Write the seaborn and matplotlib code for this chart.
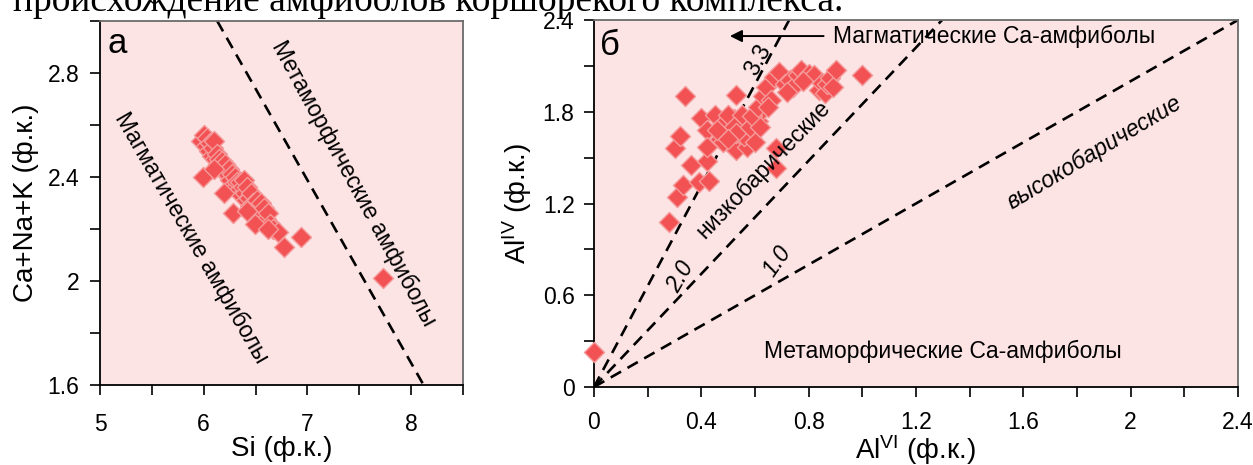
import matplotlib
matplotlib.use("Agg")
import matplotlib.pyplot as plt
import seaborn as sns
import pandas as pd
from matplotlib.ticker import MultipleLocator, FuncFormatter

# ---------------- data ----------------
# panel а: Si vs Ca+Na+K
si_a = [5.97, 6.00, 6.02, 6.03, 6.05, 6.06, 6.08, 6.09, 6.10, 6.11, 6.13, 6.14,
        6.15, 6.17, 6.18, 6.20, 6.21, 6.22, 6.24, 6.25, 6.27, 6.28, 6.30, 6.31,
        6.32, 6.34, 6.35, 6.36, 6.38, 6.39, 6.40, 6.41, 6.42, 6.44, 6.45, 6.46,
        6.48, 6.50, 6.51, 6.53, 6.55, 6.56, 6.58, 6.60, 6.62, 6.64, 6.67, 6.72,
        5.99, 6.10, 6.20, 6.28, 6.42, 6.49, 6.62, 6.77, 6.94, 7.73]
cnk_a = [2.54, 2.56, 2.52, 2.55, 2.50, 2.53, 2.48, 2.51, 2.54, 2.47, 2.49, 2.45,
         2.47, 2.44, 2.46, 2.42, 2.45, 2.41, 2.43, 2.39, 2.41, 2.37, 2.40, 2.36,
         2.38, 2.35, 2.38, 2.33, 2.36, 2.39, 2.34, 2.31, 2.36, 2.32, 2.29, 2.34,
         2.30, 2.27, 2.31, 2.28, 2.30, 2.26, 2.28, 2.24, 2.26, 2.22, 2.20, 2.19,
         2.40, 2.43, 2.34, 2.26, 2.27, 2.22, 2.20, 2.13, 2.17, 2.01]
# boundary line in panel а
line_a_si = [6.13, 8.12]
line_a_cnk = [3.0, 1.6]

# panel б: AlVI vs AlIV
alvi_b = [0.00, 0.28, 0.31, 0.33, 0.30, 0.32, 0.34, 0.36, 0.39, 0.43, 0.42, 0.40,
          0.45, 0.42, 0.42, 0.47, 0.48, 0.50, 0.51, 0.52, 0.53, 0.54, 0.55, 0.56,
          0.57, 0.58, 0.59, 0.60, 0.61, 0.62, 0.50, 0.53, 0.55, 0.57, 0.48, 0.52,
          0.56, 0.60, 0.53, 0.58, 0.46, 0.50, 0.68, 0.68, 0.59, 0.61, 0.63, 0.64,
          0.66, 0.67, 0.69, 0.71, 0.73, 0.74, 0.76, 0.77, 0.79, 0.80, 0.82, 0.84,
          0.85, 0.86, 0.87, 0.88, 0.89, 0.90, 0.72, 0.78, 1.00, 0.65, 0.62]
aliv_b = [0.23, 1.08, 1.24, 1.32, 1.56, 1.64, 1.90, 1.45, 1.34, 1.35, 1.48, 1.76,
          1.78, 1.68, 1.57, 1.62, 1.72, 1.66, 1.58, 1.75, 1.91, 1.62, 1.68, 1.60,
          1.71, 1.65, 1.62, 1.68, 1.74, 1.80, 1.78, 1.55, 1.78, 1.57, 1.60, 1.70,
          1.64, 1.60, 1.66, 1.70, 1.68, 1.62, 1.56, 1.43, 1.77, 1.83, 1.90, 1.96,
          1.88, 2.03, 2.06, 1.98, 2.01, 1.96, 2.04, 2.07, 2.02, 2.05, 2.04, 1.94,
          1.99, 1.92, 1.98, 2.02, 1.96, 2.07, 1.93, 2.00, 2.04, 1.83, 1.70]
# ratio lines AlIV/AlVI through origin
ratio_slopes = [3.3, 1.85, 1.0]
ratio_labels = ["3.3", "2.0", "1.0"]
ratio_label_x = [0.611, 0.322, 0.681]
ratio_label_y = [2.14, 0.717, 0.82]

df_a = pd.DataFrame({"Si": si_a, "CNK": cnk_a})
df_b = pd.DataFrame({"AlVI": alvi_b, "AlIV": aliv_b})

# ---------------- style ----------------
sns.set_theme(style="white")
plt.rcParams["font.family"] = ["Liberation Sans", "DejaVu Sans"]
plt.rcParams["mathtext.fontset"] = "custom"
plt.rcParams["mathtext.rm"] = "Liberation Sans"
plt.rcParams["mathtext.it"] = "Liberation Sans:italic"

BG = "#fde4e4"
PT = "#f35254"
PT_EDGE = "#f59a9a"
DASH = (0, (4.5, 2.8))
fmt = FuncFormatter(lambda v, p: f"{v:g}")

fig = plt.figure(figsize=(12.53, 4.65), dpi=100)
fig.patch.set_facecolor("white")

ax1 = fig.add_axes([100 / 1253, 80 / 465, 363 / 1253, 364 / 465])
ax2 = fig.add_axes([594 / 1253, 78 / 465, 644 / 1253, 367 / 465])

for ax in (ax1, ax2):
    ax.set_facecolor(BG)
    for s in ("left", "bottom"):
        ax.spines[s].set_color("black")
        ax.spines[s].set_linewidth(1.3)
    for s in ("top", "right"):
        ax.spines[s].set_color("#6b6b6b")
        ax.spines[s].set_linewidth(1.3)
    ax.tick_params(which="both", direction="out", length=7, width=1.2,
                   color="black", bottom=True, left=True, top=False, right=False)
    ax.tick_params(axis="both", which="major", labelsize=16.5, labelcolor="black")
    ax.xaxis.set_major_formatter(fmt)
    ax.yaxis.set_major_formatter(fmt)
    ax.grid(False)

# ---------------- panel а ----------------
ax1.plot(line_a_si, line_a_cnk, color="black", lw=1.9, ls=DASH, zorder=2)
sns.scatterplot(data=df_a, x="Si", y="CNK", ax=ax1, marker="D", s=105,
                color=PT, edgecolor=PT_EDGE, linewidth=1.0, zorder=3, legend=False)
ax1.set_xlim(5, 8.5)
ax1.set_ylim(1.6, 3.0)
ax1.xaxis.set_major_locator(MultipleLocator(1))
ax1.xaxis.set_minor_locator(MultipleLocator(0.5))
ax1.yaxis.set_major_locator(MultipleLocator(0.4))
ax1.yaxis.set_minor_locator(MultipleLocator(0.2))
ax1.tick_params(axis="x", which="major", pad=13)
ax1.tick_params(axis="y", which="major", pad=8)
ax1.set_xlabel("Si (ф.к.)", fontsize=20, labelpad=0, color="black")
ax1.set_ylabel("Ca+Na+K (ф.к.)", fontsize=20, labelpad=6, color="black")
ax1.text(0.022, 0.912, "а", transform=ax1.transAxes, fontsize=25,
         ha="left", va="baseline", color="black")
ax1.text(5.886, 2.167, "Магматические амфиболы", rotation=-60,
         rotation_mode="anchor", ha="center", va="center", fontsize=16.5, color="black")
ax1.text(7.45, 2.376, "Метаморфические амфиболы", rotation=-61.5,
         rotation_mode="anchor", ha="center", va="center", fontsize=16.5, color="black")

# ---------------- panel б ----------------
for sl in ratio_slopes:
    ax2.axline((0, 0), slope=sl, color="black", lw=1.9, ls=DASH, zorder=2)
sns.scatterplot(data=df_b, x="AlVI", y="AlIV", ax=ax2, marker="D", s=105,
                color=PT, edgecolor=PT_EDGE, linewidth=1.0, zorder=3,
                legend=False, clip_on=False)
ax2.set_xlim(0, 2.4)
ax2.set_ylim(0, 2.4)
ax2.xaxis.set_major_locator(MultipleLocator(0.4))
ax2.xaxis.set_minor_locator(MultipleLocator(0.2))
ax2.yaxis.set_major_locator(MultipleLocator(0.6))
ax2.yaxis.set_minor_locator(MultipleLocator(0.3))
ax2.tick_params(axis="x", which="major", pad=10)
ax2.tick_params(axis="y", which="major", pad=7)
ax2.set_xlabel(r"Al$^{\mathregular{VI}}$ (ф.к.)", fontsize=20, labelpad=0, color="black")
ax2.set_ylabel(r"Al$^{\mathregular{IV}}$ (ф.к.)", fontsize=20, labelpad=6, color="black")
ax2.text(0.009, 0.905, "б", transform=ax2.transAxes, fontsize=25,
         ha="left", va="baseline", color="black")

rots = [62, 60, 55]
styles = ["normal", "italic", "italic"]
for lab, lx, ly, r, st in zip(ratio_labels, ratio_label_x, ratio_label_y, rots, styles):
    ax2.text(lx, ly, lab, rotation=r, rotation_mode="anchor", ha="center",
             va="center", fontsize=16.5, style=st, color="black", zorder=4)

ax2.text(0.63, 1.42, "низкобарические", rotation=46, rotation_mode="anchor",
         ha="center", va="center", fontsize=16.5, color="black", zorder=4)
ax2.text(1.866, 1.533, "высокобарические", rotation=31, rotation_mode="anchor",
         ha="center", va="center", fontsize=16.5, style="italic", color="black")
ax2.text(1.30, 0.23, "Метаморфические Ca-амфиболы", ha="center", va="center",
         fontsize=16.5, color="black")
ax2.annotate("", xy=(0.496, 2.295), xytext=(0.866, 2.295),
             arrowprops=dict(arrowstyle="-|>", color="black", lw=1.4,
                             mutation_scale=18))
ax2.text(0.892, 2.295, "Магматические Ca-амфиболы", ha="left", va="center",
         fontsize=16.5, color="black", zorder=4)

# cropped caption line above the figure
fig.text(13 / 1253, 1 - 11 / 465, "происхождение амфиболов коршорекого комплекса.",
         family=["Liberation Serif", "DejaVu Serif"], fontsize=27,
         ha="left", va="baseline", color="black")

fig.savefig("out.png", dpi=100, facecolor="white")
